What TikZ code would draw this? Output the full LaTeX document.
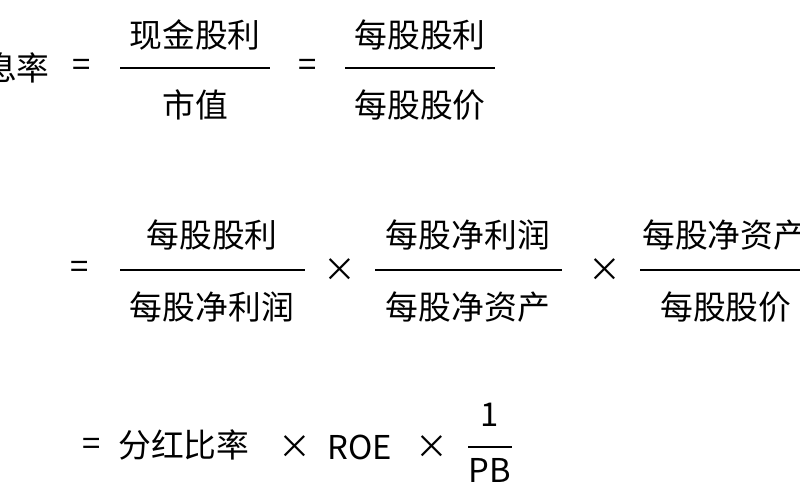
\documentclass[tikz,border=0pt]{standalone}
\usepackage{fontspec}
\setmainfont{Noto Sans CJK SC}
\begin{document}
\begin{tikzpicture}[x=0.03cm,y=-0.03cm,
  t/.style={inner sep=0pt,font=\fontsize{28}{32}\selectfont},
  fl/.style={line width=1.2pt}]
\useasboundingbox (0,0) rectangle (800,500);
\clip (0,0) rectangle (800,500);
% row 1
\node[t,anchor=east] (r1a) at (50,68) {股息率};
\node[t] (e1) at (82,68) {=};
\draw[fl] (120,68) -- (270,68);
\node[t] (n1) at (195,35) {现金股利};
\node[t] (d1) at (195,105) {市值};
\node[t] (e2) at (308,68) {=};
\draw[fl] (345,68) -- (495,68);
\node[t] (n2) at (420,35) {每股股利};
\node[t] (d2) at (420,105) {每股股价};
% row 2
\node[t] (e3) at (80,270) {=};
\draw[fl] (120,270) -- (305,270);
\node[t] (n3) at (212,235) {每股股利};
\node[t] (d3) at (212,307) {每股净利润};
\node[t] (x1) at (340,270) {×};
\draw[fl] (375,270) -- (562,270);
\node[t] (n4) at (468,235) {每股净利润};
\node[t] (d4) at (468,307) {每股净资产};
\node[t] (x2) at (605,270) {×};
\draw[fl] (640,270) -- (830,270);
\node[t,anchor=west] (n5) at (642,235) {每股净资产};
\node[t,anchor=west] (d5) at (660,307) {每股股价};
% row 3
\node[t] (e4) at (92,447) {=};
\node[t,anchor=west] (r3) at (118,445) {分红比率};
\node[t] (x3) at (295,447) {×};
\node[t] (roe) at (360,447) {ROE};
\node[t] (x4) at (432,447) {×};
\draw[fl] (468,447) -- (512,447);
\node[t] (one) at (490,415) {1};
\node[t] (pb) at (490,470) {PB};
\end{tikzpicture}
\end{document}
